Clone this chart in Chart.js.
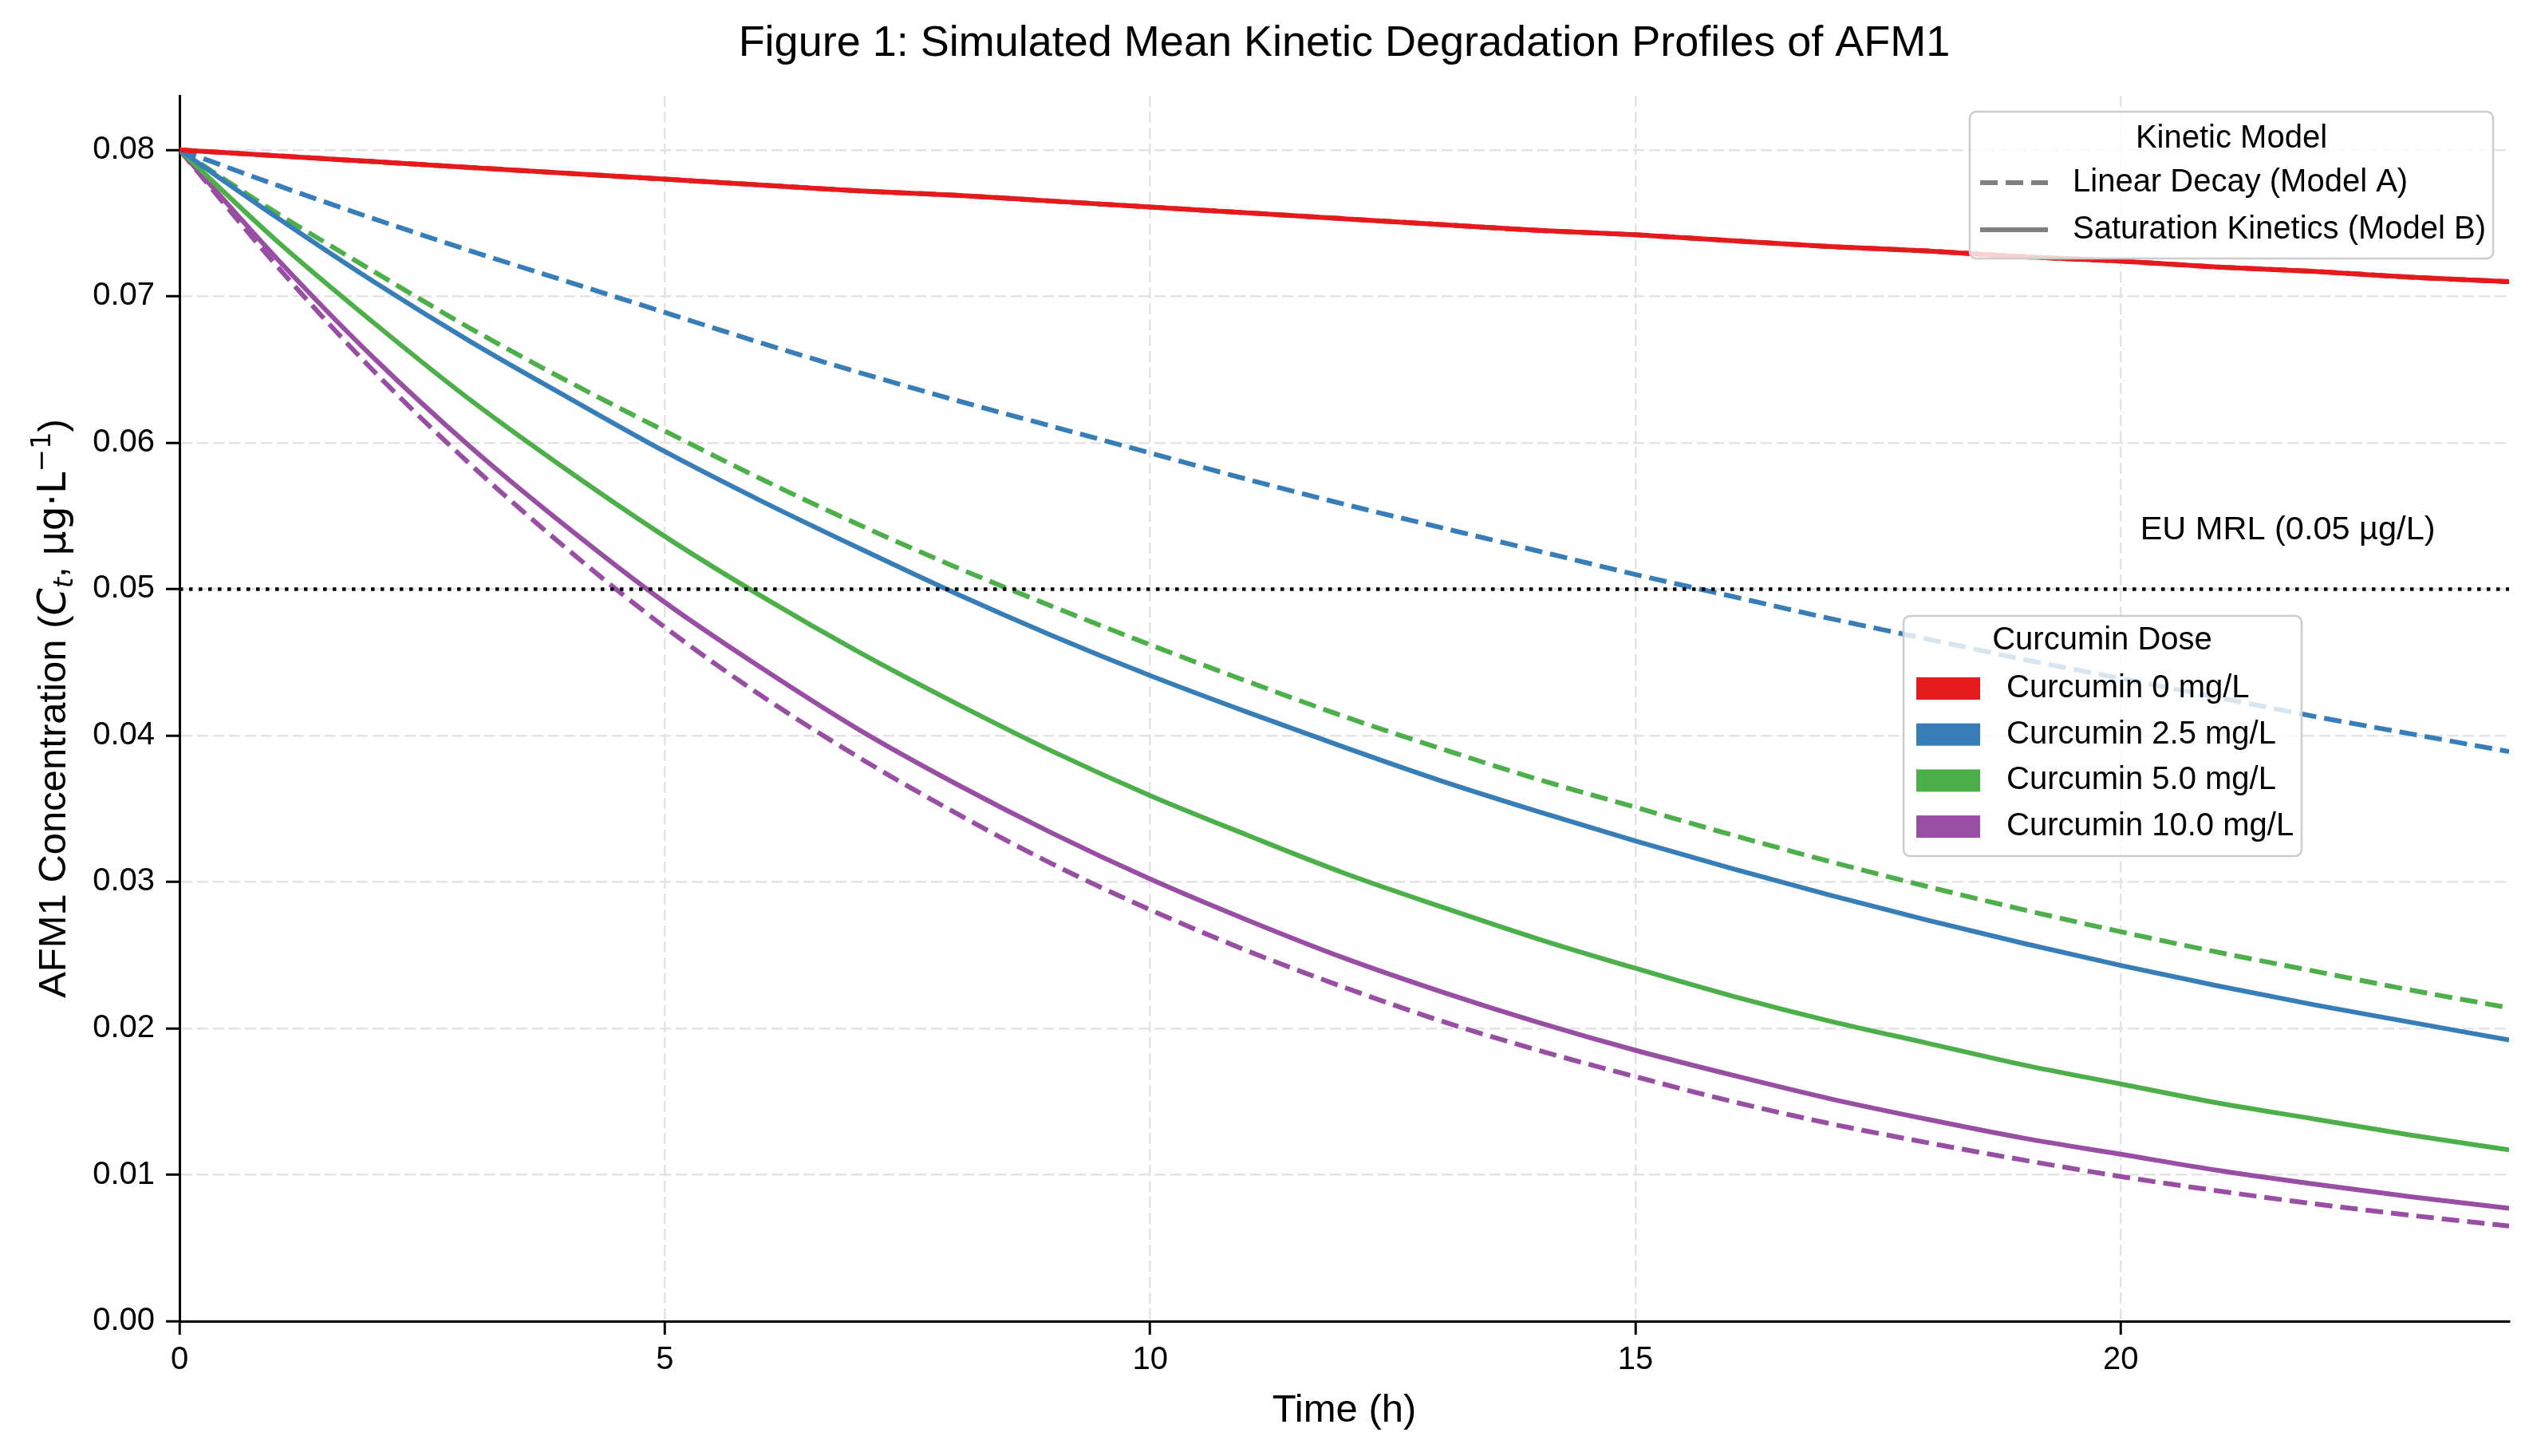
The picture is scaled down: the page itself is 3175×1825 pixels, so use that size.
<!DOCTYPE html>
<html>
<head>
<meta charset="utf-8">
<script src="https://cdn.jsdelivr.net/npm/chart.js@4.4.1/dist/chart.umd.min.js"></script>
<style>
  html, body { margin: 0; padding: 0; background: #fff; }
  canvas { display: block; }
</style>
</head>
<body>
<canvas id="grafica" width="3175" height="1825"></canvas>
<script>
// time axis (h)
const timeH = [0, 1, 2, 3, 4, 5, 6, 7, 8, 9, 10, 11, 12, 13, 14, 15, 16, 17, 18, 19, 20, 21, 22, 23, 24];

// Model A - linear decay (dashed), ug/L
const linDose0 = [0.0800, 0.0796, 0.0792, 0.0788, 0.0784, 0.0780, 0.0776, 0.0772, 0.0769, 0.0765, 0.0761, 0.0757, 0.0753, 0.0749, 0.0745, 0.0742, 0.0738, 0.0734, 0.0731, 0.0727, 0.0724, 0.0720, 0.0717, 0.0713, 0.0710];
const linDose25 = [0.0800, 0.0776, 0.0753, 0.0731, 0.0710, 0.0689, 0.0668, 0.0648, 0.0629, 0.0611, 0.0593, 0.0575, 0.0558, 0.0542, 0.0526, 0.0510, 0.0495, 0.0480, 0.0466, 0.0452, 0.0439, 0.0426, 0.0413, 0.0401, 0.0389];
const linDose50 = [0.0800, 0.0757, 0.0717, 0.0678, 0.0642, 0.0608, 0.0575, 0.0544, 0.0515, 0.0488, 0.0462, 0.0437, 0.0413, 0.0391, 0.0370, 0.0351, 0.0332, 0.0314, 0.0297, 0.0281, 0.0266, 0.0252, 0.0239, 0.0226, 0.0214];
const linDose100 = [0.0800, 0.0721, 0.0649, 0.0585, 0.0527, 0.0474, 0.0427, 0.0385, 0.0347, 0.0312, 0.0281, 0.0253, 0.0228, 0.0205, 0.0185, 0.0167, 0.0150, 0.0135, 0.0122, 0.0110, 0.00988, 0.00890, 0.00801, 0.00722, 0.00650];

// Model B - saturation kinetics (solid), ug/L
const satDose0 = [0.0800, 0.0796, 0.0792, 0.0788, 0.0784, 0.0780, 0.0776, 0.0772, 0.0769, 0.0765, 0.0761, 0.0757, 0.0753, 0.0749, 0.0745, 0.0742, 0.0738, 0.0734, 0.0731, 0.0727, 0.0724, 0.0720, 0.0717, 0.0713, 0.0710];
const satDose25 = [0.0800, 0.0754, 0.0710, 0.0669, 0.0631, 0.0594, 0.0560, 0.0528, 0.0497, 0.0468, 0.0441, 0.0416, 0.0392, 0.0369, 0.0348, 0.0328, 0.0309, 0.0291, 0.0274, 0.0258, 0.0243, 0.0229, 0.0216, 0.0204, 0.0192];
const satDose50 = [0.0800, 0.0738, 0.0682, 0.0629, 0.0581, 0.0536, 0.0495, 0.0457, 0.0422, 0.0389, 0.0359, 0.0332, 0.0306, 0.0283, 0.0261, 0.0241, 0.0222, 0.0205, 0.0190, 0.0175, 0.0162, 0.0149, 0.0138, 0.0127, 0.0117];
const satDose100 = [0.0800, 0.0726, 0.0658, 0.0597, 0.0542, 0.0491, 0.0446, 0.0404, 0.0367, 0.0333, 0.0302, 0.0274, 0.0248, 0.0225, 0.0204, 0.0185, 0.0168, 0.0152, 0.0138, 0.0125, 0.0114, 0.0103, 0.00936, 0.00849, 0.00771];

const mrlLimit = 0.05;

const xTicks = [0, 5, 10, 15, 20];
const yTicks = [0, 0.01, 0.02, 0.03, 0.04, 0.05, 0.06, 0.07, 0.08];

const doseLabels = ['Curcumin 0 mg/L', 'Curcumin 2.5 mg/L', 'Curcumin 5.0 mg/L', 'Curcumin 10.0 mg/L'];
const modelLabels = ['Linear Decay (Model A)', 'Saturation Kinetics (Model B)'];
const doseColors = ['#e41a1c', '#377eb8', '#4daf4a', '#984ea3'];

const FONT = '"Liberation Sans", Arial, sans-serif';
const DASH = [22, 10];

function serie(values, color, dashed) {
  return {
    data: timeH.map((t, i) => ({ x: t, y: values[i] })),
    borderColor: color,
    borderWidth: 6,
    borderDash: dashed ? DASH : [],
    pointRadius: 0,
    cubicInterpolationMode: 'monotone',
    fill: false
  };
}

// first dataset is drawn on top
const datasets = [
  {
    data: [{ x: timeH[0], y: mrlLimit }, { x: timeH[timeH.length - 1], y: mrlLimit }],
    borderColor: '#000',
    borderWidth: 4.5,
    borderDash: [4.5, 7.5],
    pointRadius: 0
  },
  serie(satDose0, doseColors[0], false),
  serie(satDose25, doseColors[1], false),
  serie(satDose50, doseColors[2], false),
  serie(satDose100, doseColors[3], false),
  serie(linDose0, doseColors[0], true),
  serie(linDose25, doseColors[1], true),
  serie(linDose50, doseColors[2], true),
  serie(linDose100, doseColors[3], true)
];

function drawBox(ctx, x, y, w, h) {
  ctx.save();
  ctx.beginPath();
  ctx.roundRect(x, y, w, h, 8);
  ctx.fillStyle = 'rgba(255,255,255,0.8)';
  ctx.fill();
  ctx.lineWidth = 2.5;
  ctx.strokeStyle = '#cccccc';
  ctx.stroke();
  ctx.restore();
}

const decor = {
  id: 'decor',
  afterDatasetsDraw(chart) {
    const { ctx, chartArea: a, scales: { x, y } } = chart;
    ctx.save();
    ctx.fillStyle = '#000';
    ctx.textBaseline = 'middle';

    // MRL label
    ctx.font = '41.5px ' + FONT;
    ctx.textAlign = 'left';
    ctx.fillText('EU MRL (0.05 µg/L)', x.getPixelForValue(20.2), y.getPixelForValue(0.054));

    // legend: kinetic model
    ctx.font = '40px ' + FONT;
    const kx = a.right - 676, ky = a.top + 20;
    drawBox(ctx, kx, ky, 656, 184);
    ctx.fillStyle = '#000';
    ctx.textAlign = 'center';
    ctx.fillText('Kinetic Model', kx + 328, ky + 34);
    ctx.textAlign = 'left';
    modelLabels.forEach((lbl, i) => {
      const ry = ky + 89 + i * 59;
      ctx.save();
      ctx.strokeStyle = '#808080';
      ctx.lineWidth = 6;
      ctx.setLineDash(i === 0 ? DASH : []);
      ctx.beginPath();
      ctx.moveTo(kx + 13, ry);
      ctx.lineTo(kx + 98, ry);
      ctx.stroke();
      ctx.restore();
      ctx.fillText(lbl, kx + 129, ry);
    });

    // legend: curcumin dose
    const cx = 2386, cy = 772;
    drawBox(ctx, cx, cy, 499, 301);
    ctx.fillStyle = '#000';
    ctx.textAlign = 'center';
    ctx.fillText('Curcumin Dose', cx + 249, cy + 31);
    ctx.textAlign = 'left';
    doseLabels.forEach((lbl, i) => {
      const ry = cy + 91 + i * 57.7;
      ctx.fillStyle = doseColors[i];
      ctx.fillRect(cx + 16, ry - 14, 80, 28);
      ctx.fillStyle = '#000';
      ctx.fillText(lbl, cx + 129, ry);
    });
    ctx.restore();
  },
  afterDraw(chart) {
    const { ctx, chartArea: a } = chart;
    ctx.save();
    ctx.fillStyle = '#000';
    ctx.textBaseline = 'middle';

    // title
    ctx.font = '54px ' + FONT;
    ctx.textAlign = 'center';
    ctx.fillText('Figure 1: Simulated Mean Kinetic Degradation Profiles of AFM1', (a.left + a.right) / 2, 55);

    // y label with italic C, subscript t and superscript -1
    const parts = [
      { t: 'AFM1 Concentration (', f: '49px ' + FONT, dy: 0 },
      { t: 'C', f: 'italic 49px "DejaVu Sans"', dy: 0 },
      { t: 't', f: 'italic 34px "DejaVu Sans"', dy: 9 },
      { t: ', ', f: '49px ' + FONT, dy: 0 },
      { t: 'µg·L', f: '49px "DejaVu Sans"', dy: 0 },
      { t: '−1', f: '34px "DejaVu Sans"', dy: -19 },
      { t: ')', f: '49px ' + FONT, dy: 0 }
    ];
    let total = 0;
    parts.forEach(p => { ctx.font = p.f; p.w = ctx.measureText(p.t).width; total += p.w; });
    ctx.translate(65, (a.top + a.bottom) / 2);
    ctx.rotate(-Math.PI / 2);
    ctx.textAlign = 'left';
    ctx.textBaseline = 'alphabetic';
    let px = -total / 2;
    parts.forEach(p => {
      ctx.font = p.f;
      ctx.fillText(p.t, px, 17 + p.dy);
      px += p.w;
    });
    ctx.restore();
  }
};

new Chart(document.getElementById('grafica'), {
  type: 'line',
  data: { datasets },
  plugins: [decor],
  options: {
    responsive: false,
    animation: false,
    devicePixelRatio: 1,
    layout: { padding: { top: 120, right: 30, left: 0, bottom: 0 } },
    plugins: { legend: { display: false }, tooltip: { enabled: false }, title: { display: false } },
    scales: {
      x: {
        type: 'linear',
        min: 0,
        max: 24,
        afterBuildTicks: (s) => { s.ticks = xTicks.map(v => ({ value: v })); },
        afterFit: (s) => { s.height = 169; },
        ticks: { color: '#000', font: { family: FONT, size: 40 }, padding: 8, maxRotation: 0 },
        grid: { color: '#e3e3e3', lineWidth: 2.5, tickLength: 17, tickColor: '#000', tickWidth: 3, tickBorderDash: [] },
        border: { display: true, color: '#000', width: 3, dash: [14, 6] },
        title: { display: true, text: 'Time (h)', color: '#000', font: { family: FONT, size: 49 }, padding: { top: 0, bottom: 27 } }
      },
      y: {
        type: 'linear',
        min: 0,
        max: 0.0837,
        afterBuildTicks: (s) => { s.ticks = yTicks.map(v => ({ value: v })); },
        afterFit: (s) => { s.width = 225; },
        ticks: { color: '#000', font: { family: FONT, size: 40 }, padding: 14, callback: (v) => v.toFixed(2) },
        grid: { color: '#e3e3e3', lineWidth: 2.5, tickLength: 17, tickColor: '#000', tickWidth: 3, tickBorderDash: [] },
        border: { display: true, color: '#000', width: 3, dash: [14, 6] }
      }
    }
  }
});
</script>
</body>
</html>
